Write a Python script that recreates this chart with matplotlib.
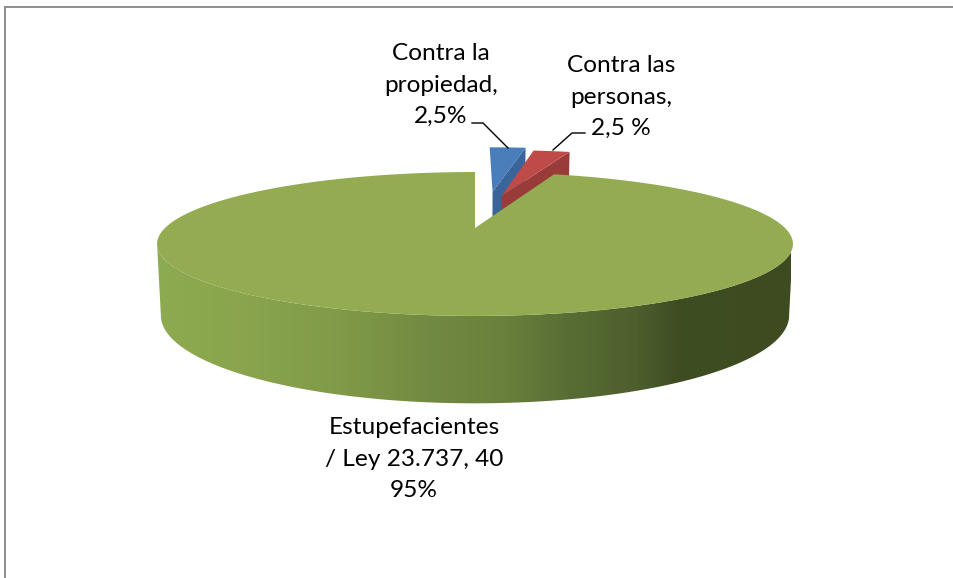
import numpy as np
import matplotlib
matplotlib.use("Agg")
import matplotlib.pyplot as plt
from matplotlib.patches import Polygon
from matplotlib.colors import LinearSegmentedColormap

# ---- data ----
categories = ["Contra la\npropiedad,\n2,5%", "Contra las\npersonas,\n2,5 %",
              "Estupefacientes\n/ Ley 23.737, 40\n95%"]
values = [2.5, 2.5, 95.0]
explode = [0.60, 0.54, 0.0]
nudge_u = [0.017, -0.03, 0.0]
top_colors = ["#4a7ebb", "#be4b48", "#93ac52"]
side_colors = ["#3a659a", "#983b39", "#6d8540"]

# ---- projection of the tilted pie to pixels ----
X0, Y0, R, RS, K, DEPTH = 475.0, 228.0, 310.0, 68.4, 0.222, 68.0


def project(u, v, z=0.0):
    den = 1 + K * np.asarray(v)
    x = X0 + R * np.asarray(u) / den * (1 - 0.012 * z)
    y = Y0 - RS * np.asarray(v) / den + DEPTH * z / den
    return np.column_stack([x, y])


fig = plt.figure(figsize=(9.54, 5.78), dpi=100)
ax = fig.add_axes([0, 0, 1, 1])
ax.set_xlim(0, 954)
ax.set_ylim(578, 0)
ax.axis("off")

# chart frame
ax.plot([5, 5, 954], [578, 7, 7], color="#868686", lw=1.3, solid_joinstyle="miter", zorder=1)

total = sum(values)
edges = np.cumsum([0] + values) / total * 2 * np.pi
wedges = []
for i, v in enumerate(values):
    a0, a1 = edges[i], edges[i + 1]
    mid = (a0 + a1) / 2
    wedges.append((a0, a1, explode[i] * np.sin(mid) + nudge_u[i], explode[i] * np.cos(mid)))

# small exploded wedges (drawn first: green overlaps them)
for i in [0, 1]:
    a0, a1, ou, ov = wedges[i]
    t = np.linspace(a0, a1, 30)
    u = np.r_[ou, ou + np.sin(t)]
    v = np.r_[ov, ov + np.cos(t)]
    end_u = np.array([ou, ou + np.sin(a1)])
    end_v = np.array([ov, ov + np.cos(a1)])
    face = np.r_[project(end_u, end_v), project(end_u[::-1], end_v[::-1], 1)]
    ax.add_patch(Polygon(face, closed=True, fc=side_colors[i], ec="none", zorder=2 + i))
    ax.add_patch(Polygon(project(u, v), closed=True, fc=top_colors[i], ec="none", zorder=2.5 + i))

# green wedge: side wall with a horizontal gradient, then top face
a0, a1, ou, ov = wedges[2]
t = np.linspace(a0, a1, 800)
ru, rv = np.sin(t), np.cos(t)
front = rv < -K + 0.002
top_rim = project(ru[front], rv[front])
bot_rim = project(ru[front], rv[front], 1)
wall = Polygon(np.r_[top_rim, bot_rim[::-1]], closed=True, fc="none", ec="none", zorder=5)
ax.add_patch(wall)
stops = [(155, "#8dab50"), (240, "#8aa54d"), (340, "#809a49"), (440, "#708840"),
         (503, "#6a813d"), (570, "#586d34"), (637, "#4d5f2d"), (680, "#3f4d22"), (791, "#3e4b21")]
xs = np.array([s[0] for s in stops], dtype=float)
cmap = LinearSegmentedColormap.from_list(
    "wall", [((x - xs[0]) / (xs[-1] - xs[0]), c) for x, (_, c) in zip(xs, stops)])
grad = np.linspace(0, 1, 640)[None, :]
im = ax.imshow(grad, cmap=cmap, extent=(155, 791, 420, 230), aspect="auto", zorder=5, interpolation="bilinear")
im.set_clip_path(wall)
ax.set_xlim(0, 954)
ax.set_ylim(578, 0)

top = np.r_[project(ou, ov), project(ru + ou, rv + ov)]
ax.add_patch(Polygon(top, closed=True, fc=top_colors[2], ec="none", zorder=6))

# leader lines
ax.plot([472, 483, 508], [123, 123, 148], color="black", lw=1.0, zorder=7)
ax.plot([585, 572, 553], [133, 133, 150], color="black", lw=1.0, zorder=7)

# labels
font = dict(family="Lato", fontsize=17.6, color="black", ha="center", va="center", linespacing=1.63, zorder=8)
ax.text(441, 85, categories[0], **font)
ax.text(621, 97, categories[1], **font)
ax.text(414, 459, categories[2], **font)

fig.savefig("out.png", dpi=100)
